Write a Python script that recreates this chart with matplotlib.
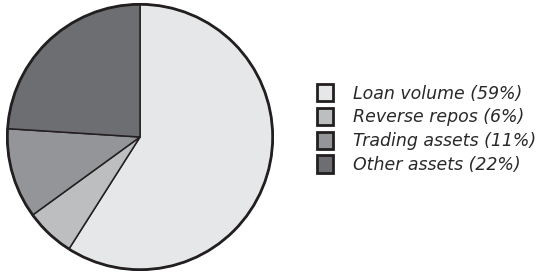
import matplotlib.pyplot as plt
from matplotlib.patches import Patch, Circle

labels = ['Loan volume (59%)', 'Reverse repos (6%)', 'Trading assets (11%)', 'Other assets (22%)']
shares = [59, 6, 11, 24]
colors = ['#e6e7e8', '#bcbec0', '#939598', '#6d6e71']
edge = '#231f20'

W, H = 538, 274
fig = plt.figure(figsize=(W / 100, H / 100), dpi=100)

# pie centre ~ (140, 137) px, radius ~134 px
cx, cy, r = 140, 137, 134
ax = fig.add_axes([(cx - r) / W, (H - cy - r) / H, 2 * r / W, 2 * r / H])
ax.pie(shares, colors=colors, startangle=90, counterclock=False,
       wedgeprops=dict(edgecolor=edge, linewidth=1.1), radius=1.0)
ax.add_patch(Circle((0, 0), 1.0, fill=False, edgecolor=edge, linewidth=2.0))
ax.set_xlim(-1.01, 1.01)
ax.set_ylim(-1.01, 1.01)
ax.set_aspect('equal')
ax.axis('off')

handles = [Patch(facecolor=c, edgecolor=edge, linewidth=2.0) for c in colors]
leg = fig.legend(handles, labels, loc='center left',
                 bbox_to_anchor=(310 / W, 1 - 129 / H),
                 frameon=False, handlelength=0.95, handleheight=1.15,
                 handletextpad=1.1, labelspacing=0.3, borderaxespad=0,
                 prop=dict(family='DejaVu Sans', style='italic', size=12.5))
for t in leg.get_texts():
    t.set_color('#2b2829')

fig.savefig('out.png', dpi=100)
